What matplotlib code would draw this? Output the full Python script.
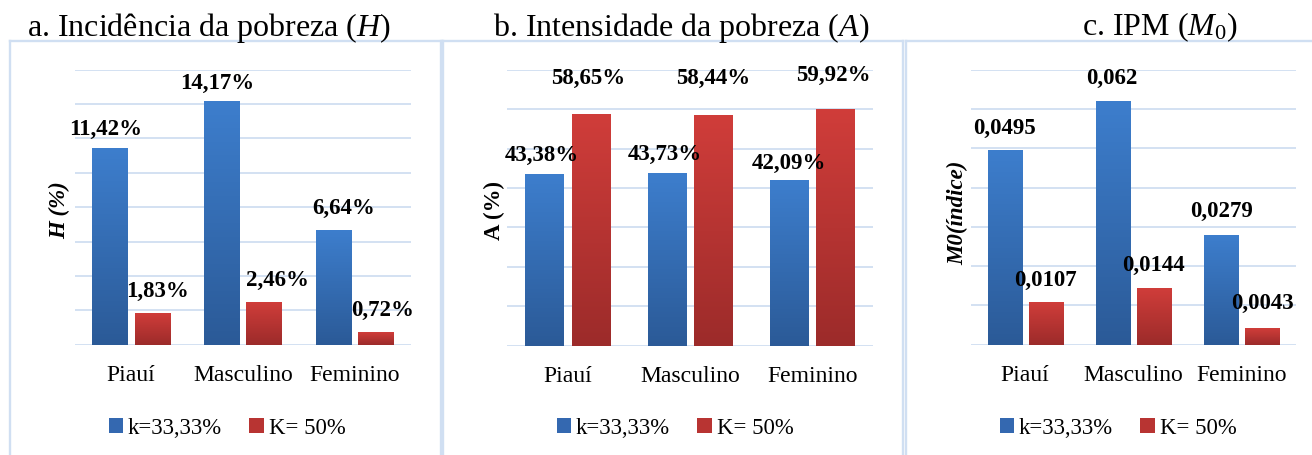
import numpy as np
import matplotlib
matplotlib.use('Agg')
import matplotlib.pyplot as plt
from matplotlib.patches import Patch
from matplotlib.lines import Line2D
from matplotlib.colors import LinearSegmentedColormap

# ---------------- data ----------------
categories = ['Piauí', 'Masculino', 'Feminino']
series_names = ['k=33,33%', 'K= 50%']

H_k33 = [11.42, 14.17, 6.64]
H_k50 = [1.83, 2.46, 0.72]
A_k33 = [43.38, 43.73, 42.09]
A_k50 = [58.65, 58.44, 59.92]
M0_k33 = [0.0495, 0.062, 0.0279]
M0_k50 = [0.0107, 0.0144, 0.0043]

# ---------------- style ----------------
plt.rcParams['font.family'] = ['Liberation Serif', 'DejaVu Serif']
plt.rcParams['mathtext.fontset'] = 'custom'
plt.rcParams['mathtext.rm'] = 'Liberation Serif'
plt.rcParams['mathtext.it'] = 'Liberation Serif:italic'
plt.rcParams['mathtext.bf'] = 'Liberation Serif:bold'

W, Hpx = 1312, 456
fig = plt.figure(figsize=(W / 100, Hpx / 100), dpi=100)


def fx(px):
    return px / W


def fy(py):
    return 1 - py / Hpx


BLUE_TOP, BLUE_BOT = '#3D7ECD', '#2B5A97'
RED_TOP, RED_BOT = '#D03D3A', '#9C2B2A'
GRID = '#D3E1F2'
FRAME = '#D0DFF2'

cmap_blue = LinearSegmentedColormap.from_list('b', [BLUE_BOT, BLUE_TOP])
cmap_red = LinearSegmentedColormap.from_list('r', [RED_BOT, RED_TOP])
grad = np.linspace(0, 1, 256).reshape(-1, 1)


def pct(v):
    return f"{v:.2f}".replace('.', ',') + '%'


def idx(v):
    return f"{v:g}".replace('.', ',')


panels = [
    dict(box=(75, 70.7, 410.7, 345.7), top=16, step=2, s1=H_k33, s2=H_k50, fmt=pct,
         off1=[(-4, 20), (-4, 19), (10, 23)], off2=[(5.5, 23), (13, 23), (7, 23)],
         title='a. Incidência da pobreza ($H$)', tx=27,
         ylabel='H (%)', ystyle='italic', ylx=60, yly=210, legx=227),
    dict(box=(506.7, 70.7, 873.3, 346.7), top=70, step=10, s1=A_k33, s2=A_k50, fmt=pct,
         off1=[(-2.5, 20), (-2, 20), (0, 17)], off2=[(-3, 37), (0, 38), (-2.5, 35)],
         title='b. Intensidade da pobreza ($A$)', tx=492.7,
         ylabel='A (%)', ystyle='normal', ylx=494, yly=211, legx=675),
    dict(box=(971, 70.7, 1295.7, 345.7), top=0.07, step=0.01, s1=M0_k33, s2=M0_k50, fmt=idx,
         off1=[(0, 23), (-1, 24), (1, 25)], off2=[(0, 23), (0, 24), (0, 25)],
         title='c. IPM ($M_0$)', tx=1081.7,
         ylabel='M0(índice)', ystyle='italic', ylx=958, yly=213, legx=1118),
]

x = np.arange(len(categories))
bw = 0.315
shift = 0.19

for p in panels:
    l, t, r, b = p['box']
    ax = fig.add_axes([fx(l), fy(b), (r - l) / W, (b - t) / Hpx])
    bars1 = ax.bar(x - shift, p['s1'], width=bw, color=BLUE_BOT, zorder=2)
    bars2 = ax.bar(x + shift, p['s2'], width=bw, color=RED_BOT, zorder=2)
    for bars, cm in ((bars1, cmap_blue), (bars2, cmap_red)):
        for patch in bars:
            x0, y0 = patch.get_x(), patch.get_y()
            w, h = patch.get_width(), patch.get_height()
            ax.imshow(grad, extent=[x0, x0 + w, y0, y0 + h], origin='lower',
                      cmap=cm, aspect='auto', interpolation='bicubic', zorder=3)
    ax.set_xlim(-0.5, len(categories) - 0.5)
    ax.set_ylim(0, p['top'])
    ax.set_yticks(np.linspace(0, p['top'], int(round(p['top'] / p['step'])) + 1))
    ax.yaxis.grid(True, color=GRID, lw=1.4)
    ax.set_axisbelow(True)
    ax.tick_params(axis='y', length=0, labelleft=False)
    ax.set_xticks(x, categories, fontsize=17)
    ax.tick_params(axis='x', length=0, pad=14)
    for s in ax.spines.values():
        s.set_visible(False)
    ax.patch.set_alpha(0)

    for bars, vals, offs in ((bars1, p['s1'], p['off1']), (bars2, p['s2'], p['off2'])):
        for patch, v, (dx, dy) in zip(bars, vals, offs):
            cx = patch.get_x() + patch.get_width() / 2
            ax.annotate(p['fmt'](v), xy=(cx, v), xytext=(dx * 0.72, dy * 0.72),
                        textcoords='offset points', ha='center', va='center',
                        fontsize=16.5, fontweight='bold', color='black', zorder=5)

    fig.text(fx(p['tx']), fy(35.7), p['title'], fontsize=23, ha='left', va='baseline')
    fig.text(fx(p['ylx']), fy(p['yly']), p['ylabel'], rotation=90, fontsize=16.5,
             fontweight='bold', fontstyle=p['ystyle'], ha='center', va='center')

    handles = [Patch(facecolor='#3468B0', edgecolor='none'),
               Patch(facecolor='#B83432', edgecolor='none')]
    fig.legend(handles, series_names, loc='center', bbox_to_anchor=(fx(p['legx']), fy(429)),
               ncol=2, frameon=False, fontsize=16.4, handlelength=0.65, handleheight=0.65,
               handletextpad=0.2, columnspacing=1.2, borderaxespad=0, borderpad=0)

# panel frames
frame_lines = [
    ((10, 10), (41.7, 460)), ((10, 441.7), (41.7, 41.7)), ((441, 441), (41.7, 460)),
    ((442.5, 442.5), (41.7, 460)), ((442.5, 903), (41.7, 41.7)), ((903, 903), (41.7, 460)),
    ((906.3, 906.3), (41.7, 460)), ((906.3, 1312), (41.7, 41.7)),
]
for xs, ys in frame_lines:
    fig.add_artist(Line2D([fx(v) for v in xs], [fy(v) for v in ys], color=FRAME, lw=1.7,
                          transform=fig.transFigure, zorder=0))

fig.savefig('out.png', dpi=100)
